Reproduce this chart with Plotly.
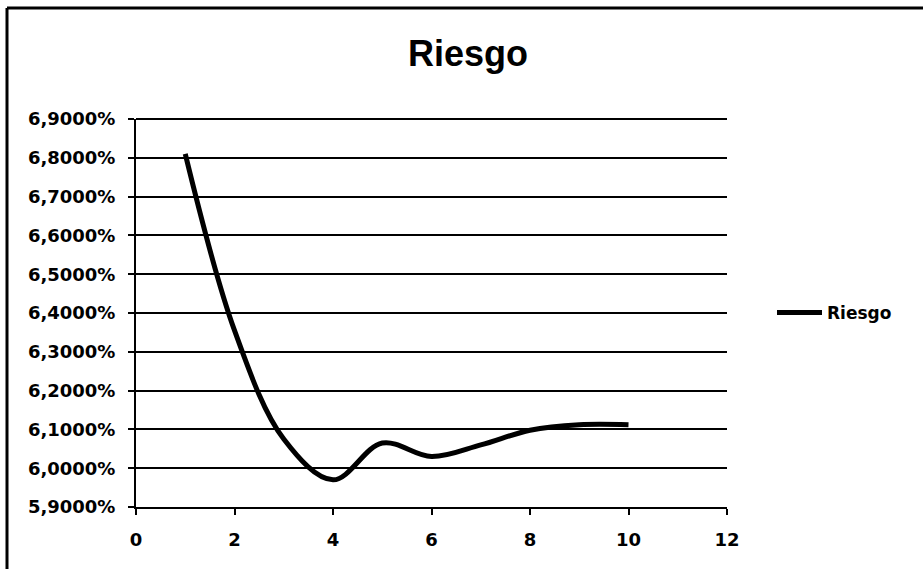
import plotly.graph_objects as go

x_vals = [1, 2, 3, 4, 5, 6, 7, 8, 9, 10]
riesgo = [0.0681, 0.06355, 0.06075, 0.0597, 0.06065, 0.0603, 0.0606, 0.06098, 0.06112, 0.06112]
series_name = "Riesgo"
title_text = "Riesgo"

W, H = 923, 569
L, R, T, B = 136, 727, 119, 507

def px(xp):
    return (xp - L) / (R - L)

def py(yp):
    return (B - yp) / (B - T)

fig = go.Figure()
fig.add_trace(go.Scatter(
    x=x_vals, y=riesgo, mode="lines", name=series_name,
    line=dict(color="black", width=5, shape="spline", smoothing=1.0),
))

title_font = "Liberation Sans, Arial, sans-serif"
tick_font = "DejaVu Sans, sans-serif"

fig.update_layout(
    width=W, height=H,
    margin=dict(l=L, r=W - R, t=T, b=H - B, pad=0),
    paper_bgcolor="white", plot_bgcolor="white",
    separators=",.",
    title=dict(text="<b>" + title_text + "</b>", xref="container", x=468 / W,
               xanchor="center", y=1 - 53 / H, yanchor="middle",
               font=dict(family=title_font, size=36, color="black")),
    xaxis=dict(range=[0, 12], dtick=2, tick0=0, showgrid=False, zeroline=False,
               showline=True, linecolor="black", linewidth=2,
               ticks="outside", ticklen=6, tickcolor="black", tickwidth=2,
               ticklabelstandoff=9,
               tickfont=dict(family=tick_font, size=18, color="black", weight="bold")),
    yaxis=dict(range=[0.059, 0.069], dtick=0.001, tick0=0.059, tickformat=".4%",
               showgrid=True, gridcolor="black", gridwidth=2, zeroline=False,
               showline=True, linecolor="black", linewidth=2,
               ticks="outside", ticklen=6, tickcolor="black", tickwidth=2,
               ticklabelstandoff=9,
               tickfont=dict(family=tick_font, size=18, color="black", weight="bold")),
    legend=dict(x=px(772), y=py(313), xanchor="left", yanchor="middle",
                bgcolor="rgba(0,0,0,0)", itemwidth=45,
                font=dict(family=tick_font, size=17, color="black", weight="bold")),
    showlegend=True,
)

# top gridline at the range maximum
fig.add_shape(type="line", xref="x domain", yref="y domain",
              x0=0, x1=1, y0=1, y1=1, line=dict(color="black", width=2))

# chart border (left and top edges visible)
fig.add_shape(type="line", xref="paper", yref="paper",
              x0=px(7), x1=px(7), y0=py(8), y1=py(569),
              line=dict(color="black", width=3))
fig.add_shape(type="line", xref="paper", yref="paper",
              x0=px(7), x1=px(923), y0=py(8), y1=py(8),
              line=dict(color="black", width=3))

fig.write_html("out.html")
